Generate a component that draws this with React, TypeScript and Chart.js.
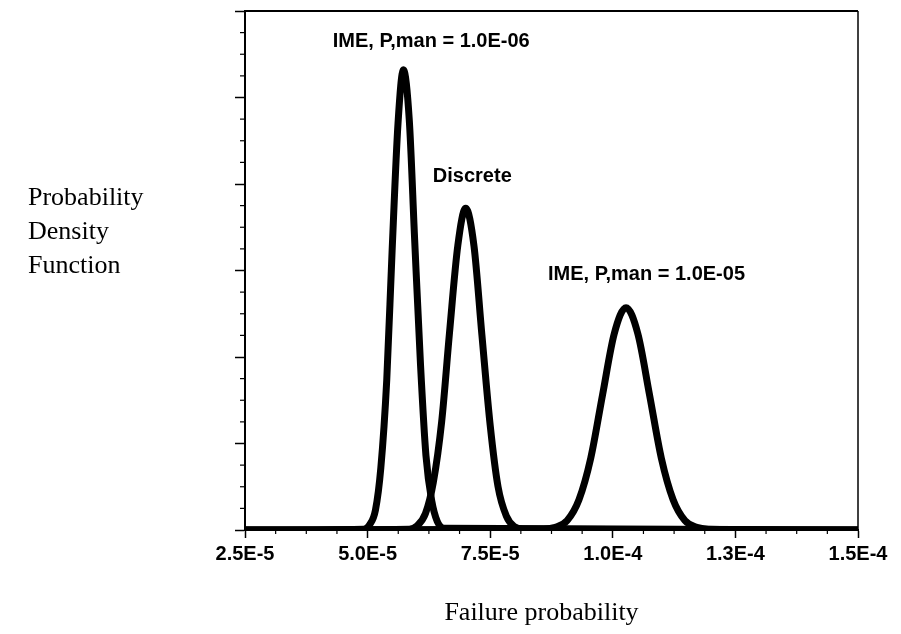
import React, { useEffect, useRef } from 'react';
import { Chart, registerables } from 'chart.js';

Chart.register(...registerables);

// x values are in units of 1E-5
const xTickLabels = ['2.5E-5', '5.0E-5', '7.5E-5', '1.0E-4', '1.3E-4', '1.5E-4'];
const xMin = 2.5;
const xMax = 15;
const xStep = 2.5;
const yMin = 0;
const yMax = 6;
const yStep = 1;

// IME, P,man = 1.0E-06
const ime6X = [2.5, 4.92, 5.04, 5.16, 5.27, 5.39, 5.5, 5.62, 5.73, 5.85, 5.96, 6.08, 6.19, 6.31, 6.42, 6.56, 15];
const ime6Y = [0, 0.01, 0.06, 0.23, 0.72, 1.73, 3.23, 4.7, 5.32, 4.74, 3.35, 1.9, 0.86, 0.33, 0.1, 0.02, 0];

// Discrete
const discX = [2.5, 5.85, 6.01, 6.18, 6.34, 6.51, 6.67, 6.84, 7.0, 7.17, 7.33, 7.5, 7.66, 7.83, 7.99, 8.16, 15];
const discY = [0, 0.01, 0.05, 0.19, 0.55, 1.25, 2.28, 3.29, 3.72, 3.28, 2.26, 1.21, 0.5, 0.16, 0.04, 0.01, 0];

// IME, P,man = 1.0E-05
const ime5X = [2.5, 8.59, 8.83, 9.07, 9.31, 9.55, 9.79, 10.03, 10.27, 10.51, 10.75, 10.99, 11.23, 11.47, 11.71, 11.95, 15];
const ime5Y = [0, 0.01, 0.03, 0.11, 0.35, 0.83, 1.56, 2.27, 2.57, 2.27, 1.56, 0.83, 0.35, 0.11, 0.03, 0.01, 0];

const annotTexts = ['IME, P,man = 1.0E-06', 'Discrete', 'IME, P,man = 1.0E-05'];
const annotX = [4.29, 6.33, 8.68];
const annotY = [5.58, 4.02, 2.89];

const yTitleLines = ['Probability', 'Density', 'Function'];
const xTitle = 'Failure probability';

const toPoints = (xs: number[], ys: number[]) => xs.map((x, i) => ({ x, y: ys[i] }));

const decorPlugin = {
  id: 'decor',
  afterDraw(chart: any) {
    const ctx = chart.ctx;
    const { left, right, top, bottom } = chart.chartArea;
    const xs = chart.scales.x;
    const ys = chart.scales.y;
    ctx.save();
    ctx.strokeStyle = '#000';
    ctx.fillStyle = '#000';
    // frame top & right
    ctx.lineWidth = 2;
    ctx.beginPath();
    ctx.moveTo(left - 1, top);
    ctx.lineTo(right, top);
    ctx.stroke();
    ctx.lineWidth = 1.5;
    ctx.beginPath();
    ctx.moveTo(right, top);
    ctx.lineTo(right, bottom);
    ctx.stroke();
    // minor ticks
    ctx.lineWidth = 1.2;
    const xMinor = xStep / 4;
    for (let i = 0; i <= Math.round((xMax - xMin) / xMinor); i++) {
      if (i % 4 === 0) continue;
      const px = xs.getPixelForValue(xMin + i * xMinor);
      ctx.beginPath();
      ctx.moveTo(px, bottom);
      ctx.lineTo(px, bottom + 4);
      ctx.stroke();
    }
    const yMinor = yStep / 4;
    for (let i = 0; i <= Math.round((yMax - yMin) / yMinor); i++) {
      if (i % 4 === 0) continue;
      const py = ys.getPixelForValue(yMin + i * yMinor);
      ctx.beginPath();
      ctx.moveTo(left, py);
      ctx.lineTo(left - 5, py);
      ctx.stroke();
    }
    // curve annotations
    ctx.font = 'bold 20px "Liberation Sans", Arial, sans-serif';
    ctx.textAlign = 'left';
    ctx.textBaseline = 'alphabetic';
    annotTexts.forEach((t, i) => {
      ctx.fillText(t, xs.getPixelForValue(annotX[i]), ys.getPixelForValue(annotY[i]));
    });
    // axis titles
    ctx.font = '26px "Liberation Serif", "Times New Roman", serif';
    yTitleLines.forEach((t, i) => {
      ctx.fillText(t, 28, 205 + i * 34);
    });
    ctx.textAlign = 'center';
    ctx.fillText(xTitle, (left + right) / 2 - 10, 620);
    ctx.restore();
  },
};

export default function App() {
  const canvasRef = useRef<HTMLCanvasElement | null>(null);

  useEffect(() => {
    if (!canvasRef.current) return;
    const lineStyle = {
      borderColor: '#000',
      backgroundColor: '#000',
      borderWidth: 7,
      pointRadius: 0,
      fill: false,
      cubicInterpolationMode: 'monotone' as const,
      borderJoinStyle: 'round' as const,
      borderCapStyle: 'round' as const,
    };
    const chart = new Chart(canvasRef.current, {
      type: 'line',
      data: {
        datasets: [
          { label: annotTexts[0], data: toPoints(ime6X, ime6Y), ...lineStyle },
          { label: annotTexts[1], data: toPoints(discX, discY), ...lineStyle },
          { label: annotTexts[2], data: toPoints(ime5X, ime5Y), ...lineStyle },
        ],
      },
      options: {
        animation: false,
        responsive: false,
        devicePixelRatio: 1,
        layout: { padding: { left: 235, right: 43, top: 11, bottom: 0 } },
        plugins: {
          legend: { display: false },
          tooltip: { enabled: false },
          title: { display: false },
        },
        scales: {
          x: {
            type: 'linear',
            min: xMin,
            max: xMax,
            afterFit: (s: any) => {
              s.height = 104;
            },
            ticks: {
              stepSize: xStep,
              autoSkip: false,
              maxRotation: 0,
              padding: 4,
              color: '#000',
              font: { family: '"Liberation Sans", Arial, sans-serif', size: 20, weight: 'bold' },
              callback: (v: any) => {
                const idx = Math.round((Number(v) - xMin) / xStep);
                return xTickLabels[idx] ?? '';
              },
            },
            grid: {
              drawOnChartArea: false,
              drawTicks: true,
              tickLength: 8,
              tickColor: '#000',
              tickWidth: 1.5,
            },
            border: { display: true, color: '#000', width: 2 },
          },
          y: {
            type: 'linear',
            min: yMin,
            max: yMax,
            afterFit: (s: any) => {
              s.width = 10;
            },
            ticks: { stepSize: yStep, display: false },
            grid: {
              drawOnChartArea: false,
              drawTicks: true,
              tickLength: 10,
              tickColor: '#000',
              tickWidth: 1.5,
            },
            border: { display: true, color: '#000', width: 2 },
          },
        },
      },
      plugins: [decorPlugin],
    });
    return () => chart.destroy();
  }, []);

  return (
    <div style={{ position: 'absolute', left: 0, top: 0, width: 901, height: 634, background: '#fff' }}>
      <canvas ref={canvasRef} width={901} height={634} style={{ display: 'block' }} />
    </div>
  );
}
